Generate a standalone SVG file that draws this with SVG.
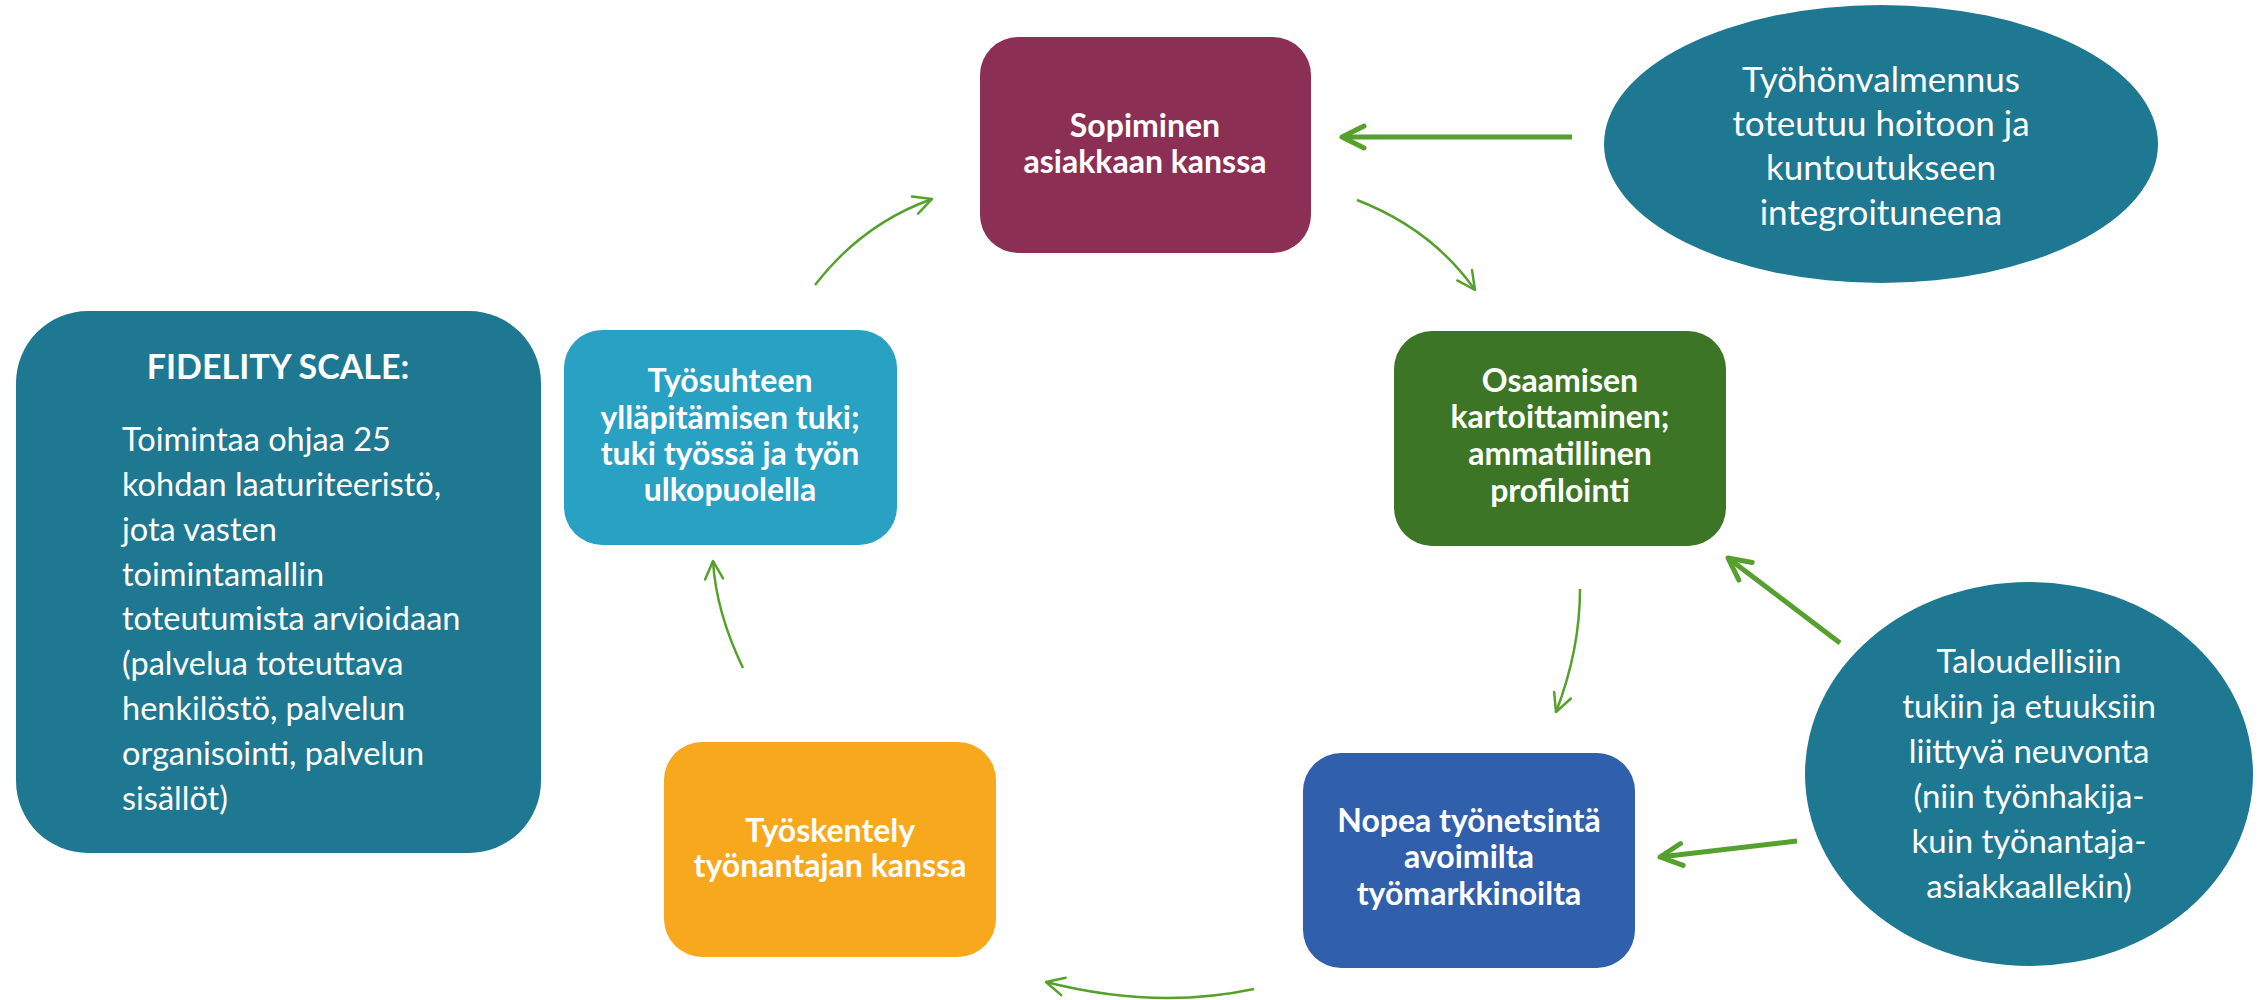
<svg xmlns="http://www.w3.org/2000/svg" width="2262" height="1000" viewBox="0 0 2262 1000">
<style>
  .node text { fill: #ffffff; font-family: Lato, "Liberation Sans", sans-serif; text-anchor: middle; }
  .b { font-weight: 700; font-size: 32px; }
  .r { font-weight: 400; font-size: 33px; }
  .thin { fill: none; stroke: #56A02E; stroke-width: 2.5; marker-end: url(#ah-thin); }
  .thick { fill: none; stroke: #56A02E; stroke-width: 5; marker-end: url(#ah-thick); }
</style>
<defs>
  <marker id="ah-thin" viewBox="-30 -20 40 40" markerWidth="40" markerHeight="40" refX="0" refY="0" markerUnits="userSpaceOnUse" orient="auto">
    <path d="M-18,-9 L0,0 L-18,9" fill="none" stroke="#56A02E" stroke-width="2.5" stroke-linecap="round" stroke-linejoin="round"/>
  </marker>
  <marker id="ah-thick" viewBox="-30 -20 40 40" markerWidth="40" markerHeight="40" refX="0" refY="0" markerUnits="userSpaceOnUse" orient="auto">
    <path d="M-22,-11 L0,0 L-22,11" fill="none" stroke="#56A02E" stroke-width="5" stroke-linecap="round" stroke-linejoin="round"/>
  </marker>
</defs>
<rect width="2262" height="1000" fill="#ffffff"/>

<g id="connectors">
  <path class="thin" d="M815,285 Q862,224 932,199"/>
  <path class="thin" d="M1357,200 Q1432,229 1475,290"/>
  <path class="thin" d="M1580,589 Q1580,650 1556,712"/>
  <path class="thin" d="M1254,989 Q1156,1010 1046,982"/>
  <path class="thin" d="M743,668 Q716,612 713,561"/>
  <path class="thick" d="M1572,137 L1342,137"/>
  <path class="thick" d="M1840,643 L1728,558"/>
  <path class="thick" d="M1797,841 L1660,857"/>
</g>

<g id="fidelity" class="node">
  <rect x="16" y="311" width="525" height="542" rx="72" fill="#1F7891"/>
  <text x="278" y="379" class="b" style="font-size:34px">FIDELITY SCALE:</text>
  <text class="r" style="text-anchor:start;font-size:32.5px">
    <tspan x="122" y="451">Toimintaa ohjaa 25</tspan>
    <tspan x="122" y="496">kohdan laaturiteeristö,</tspan>
    <tspan x="122" y="541">jota vasten</tspan>
    <tspan x="122" y="586">toimintamallin</tspan>
    <tspan x="122" y="630">toteutumista arvioidaan</tspan>
    <tspan x="122" y="675">(palvelua toteuttava</tspan>
    <tspan x="122" y="720">henkilöstö, palvelun</tspan>
    <tspan x="122" y="765">organisointi, palvelun</tspan>
    <tspan x="122" y="810">sisällöt)</tspan>
  </text>
</g>

<g id="sopiminen" class="node">
  <rect x="980" y="37" width="331" height="216" rx="38" fill="#8C2F55"/>
  <text class="b"><tspan x="1145" y="137">Sopiminen</tspan><tspan x="1145" y="173">asiakkaan kanssa</tspan></text>
</g>

<g id="osaamisen" class="node">
  <rect x="1394" y="331" width="332" height="215" rx="38" fill="#3D7526"/>
  <text class="b"><tspan x="1560" y="392">Osaamisen</tspan><tspan x="1560" y="428">kartoittaminen;</tspan><tspan x="1560" y="465">ammatillinen</tspan><tspan x="1560" y="502">profilointi</tspan></text>
</g>

<g id="nopea" class="node">
  <rect x="1303" y="753" width="332" height="215" rx="38" fill="#3060AC"/>
  <text class="b"><tspan x="1469" y="832">Nopea työnetsintä</tspan><tspan x="1469" y="868">avoimilta</tspan><tspan x="1469" y="905">työmarkkinoilta</tspan></text>
</g>

<g id="tyoskentely" class="node">
  <rect x="664" y="742" width="332" height="215" rx="38" fill="#F7A81D"/>
  <text class="b"><tspan x="830" y="842">Työskentely</tspan><tspan x="830" y="877">työnantajan kanssa</tspan></text>
</g>

<g id="tyosuhteen" class="node">
  <rect x="564" y="330" width="333" height="215" rx="38" fill="#29A1C3"/>
  <text class="b"><tspan x="730" y="392">Työsuhteen</tspan><tspan x="730" y="429">ylläpitämisen tuki;</tspan><tspan x="730" y="465">tuki työssä ja työn</tspan><tspan x="730" y="501">ulkopuolella</tspan></text>
</g>

<g id="tyohonvalmennus" class="node">
  <ellipse cx="1881" cy="144" rx="277" ry="139" fill="#1F7891"/>
  <text class="r" style="font-size:35px"><tspan x="1881" y="92">Työhönvalmennus</tspan><tspan x="1881" y="136">toteutuu hoitoon ja</tspan><tspan x="1881" y="180">kuntoutukseen</tspan><tspan x="1881" y="225">integroituneena</tspan></text>
</g>

<g id="taloudellisiin" class="node">
  <ellipse cx="2029" cy="774" rx="224" ry="192" fill="#1F7891"/>
  <text class="r"><tspan x="2029" y="673">Taloudellisiin</tspan><tspan x="2029" y="718">tukiin ja etuuksiin</tspan><tspan x="2029" y="763">liittyvä neuvonta</tspan><tspan x="2029" y="808">(niin työnhakija-</tspan><tspan x="2029" y="853">kuin työnantaja-</tspan><tspan x="2029" y="898">asiakkaallekin)</tspan></text>
</g>
</svg>
